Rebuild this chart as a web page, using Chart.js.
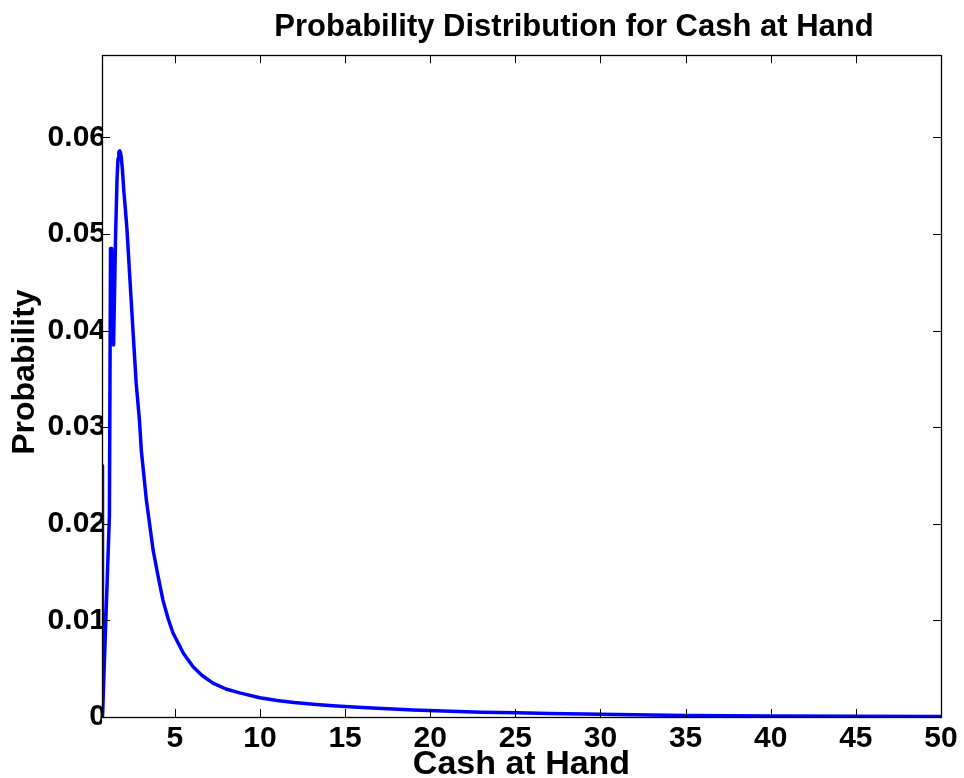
<!DOCTYPE html>
<html>
<head>
<meta charset="utf-8">
<script src="https://cdn.jsdelivr.net/npm/chart.js@4/dist/chart.umd.min.js"></script>
<style>
html,body{margin:0;padding:0;background:#fff;}
canvas{display:block;}
</style>
</head>
<body>
<canvas id="c" width="964" height="778"></canvas>
<script>
// Cash at hand (x) and probability (y)
const cashValues = [0.72, 0.75, 1.155, 1.22, 1.29, 1.40, 1.52, 1.60, 1.66, 1.71, 1.76, 1.81, 1.86, 1.92, 2.00, 2.10, 2.19, 2.33, 2.54, 2.73, 2.92, 3.03, 3.33, 3.72, 4.00, 4.30, 4.60, 4.89, 5.50, 6.07, 6.60, 7.24, 8.00, 8.81, 9.99, 11.0, 12.0, 13.3, 14.5, 16.0, 17.5, 19.0, 21.2, 23.0, 25.1, 27.0, 29.0, 32.0, 35.0, 40.0, 45.0, 50.0];
const probValues = [0.026, 0.0, 0.0208, 0.0485, 0.0485, 0.0385, 0.050, 0.0555, 0.0578, 0.0585, 0.0586, 0.0584, 0.0578, 0.0566, 0.0545, 0.0524, 0.0504, 0.0462, 0.040, 0.0345, 0.0307, 0.0276, 0.0224, 0.0173, 0.0147, 0.0121, 0.0102, 0.0087, 0.0066, 0.0052, 0.0043, 0.0035, 0.0029, 0.0025, 0.0020, 0.0017, 0.0015, 0.0013, 0.00115, 0.00098, 0.00085, 0.00073, 0.0006, 0.0005, 0.00043, 0.00037, 0.0003, 0.00022, 0.00016, 0.0001, 0.00007, 0.00005];
const xTicks = [5, 10, 15, 20, 25, 30, 35, 40, 45, 50];
const yTicks = [0, 0.01, 0.02, 0.03, 0.04, 0.05, 0.06];
const yTickLabels = ['0', '0.01', '0.02', '0.03', '0.04', '0.05', '0.06'];

const FONT = "'Liberation Sans', Arial, sans-serif";

const innerTicks = {
  id: 'innerTicks',
  afterLayout(chart) {
    const tb = chart.titleBlock;
    if (tb) {
      const d = 574 - (tb.left + tb.right) / 2;
      tb.left += d; tb.right += d;
    }
    const ys = chart.scales.y;
    if (ys && !ys._shifted) {
      const orig = ys.drawTitle;
      ys.drawTitle = function () {
        const ctx = this.ctx;
        ctx.save(); ctx.translate(0, -14); orig.call(this); ctx.restore();
      };
      ys._shifted = true;
    }
  },
  afterDraw(chart) {
    const {ctx, chartArea: a, scales: {x, y}} = chart;
    ctx.save();
    ctx.strokeStyle = '#000';
    ctx.lineWidth = 1;
    ctx.beginPath();
    const L = 8;
    xTicks.forEach(v => {
      const px = Math.round(x.getPixelForValue(v)) + 0.5;
      ctx.moveTo(px, a.bottom); ctx.lineTo(px, a.bottom - L);
      ctx.moveTo(px, a.top); ctx.lineTo(px, a.top + L);
    });
    yTicks.forEach(v => {
      const py = Math.round(y.getPixelForValue(v)) + 0.5;
      ctx.moveTo(a.left, py); ctx.lineTo(a.left + L, py);
      ctx.moveTo(a.right, py); ctx.lineTo(a.right - L, py);
    });
    ctx.stroke();
    ctx.lineWidth = 1.3;
    ctx.strokeRect(Math.round(a.left) + 0.5, Math.round(a.top) + 0.5, Math.round(a.right - a.left), Math.round(a.bottom - a.top));
    ctx.restore();
  }
};

new Chart(document.getElementById('c'), {
  type: 'line',
  data: {
    datasets: [{
      data: cashValues.map((v, i) => ({x: v, y: probValues[i]})),
      borderColor: '#0000ff',
      borderWidth: 3.5,
      pointRadius: 0,
      tension: 0,
      borderJoinStyle: 'round',
      fill: false
    }]
  },
  options: {
    responsive: false,
    animation: false,
    events: [],
    layout: {padding: {left: 0, right: 23, top: 0, bottom: 0}},
    plugins: {
      legend: {display: false},
      tooltip: {enabled: false},
      title: {
        display: true,
        text: 'Probability Distribution for Cash at Hand',
        color: '#000',
        font: {family: FONT, size: 31, weight: 'bold', lineHeight: 1.2},
        padding: {top: 9, bottom: 9}
      }
    },
    scales: {
      x: {
        type: 'linear',
        min: 0.72,
        max: 50,
        afterFit: s => { s.height = 61; },
        afterBuildTicks: s => { s.ticks = xTicks.map(v => ({value: v})); },
        grid: {display: false, drawTicks: false},
        border: {display: false},
        ticks: {
          color: '#000',
          padding: 4,
          maxRotation: 0,
          autoSkip: false,
          font: {family: FONT, size: 30, weight: 'bold'},
          callback: v => String(v)
        },
        title: {
          display: true,
          text: 'Cash at Hand',
          color: '#000',
          font: {family: FONT, size: 34, weight: 'bold', lineHeight: 1},
          padding: {top: 0, bottom: -4}
        }
      },
      y: {
        type: 'linear',
        min: 0,
        max: 0.0685,
        afterFit: s => { s.width = 102; },
        afterBuildTicks: s => { s.ticks = yTicks.map(v => ({value: v})); },
        grid: {display: false, drawTicks: false},
        border: {display: false},
        ticks: {
          color: '#000',
          padding: -4,
          autoSkip: false,
          font: {family: FONT, size: 30, weight: 'bold'},
          callback: (v) => { const i = yTicks.findIndex(t => Math.abs(t - v) < 1e-9); return i >= 0 ? yTickLabels[i] : ''; }
        },
        title: {
          display: true,
          text: 'Probability',
          color: '#000',
          font: {family: FONT, size: 32, weight: 'bold', lineHeight: 1.2},
          padding: {top: 6, bottom: 0}
        }
      }
    }
  },
  plugins: [innerTicks]
});
</script>
</body>
</html>
